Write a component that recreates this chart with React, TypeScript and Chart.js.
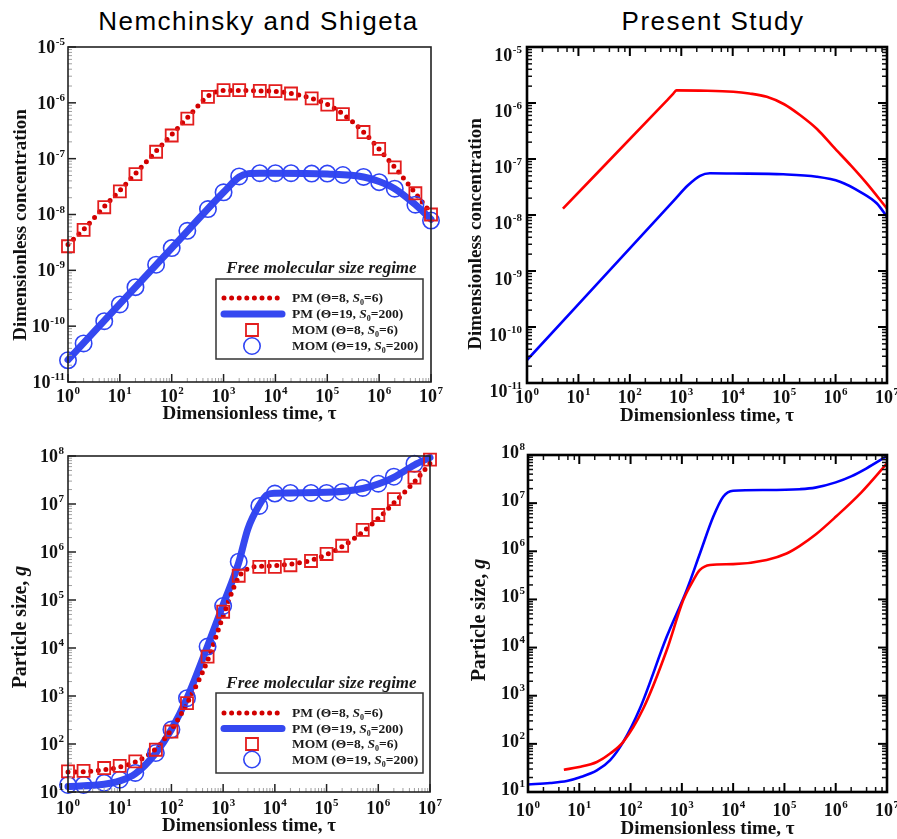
import React, { useEffect, useRef } from "react";
import { Chart, registerables } from "chart.js";

Chart.register(...registerables);

const W = 897;
const H = 839;

// ---------------- data ----------------
// Nemchinsky & Shigeta: concentration
const tauMOM = [1, 2, 5, 10, 20, 50, 100, 200, 500, 1e3, 2e3, 5e3, 1e4, 2e4, 5e4, 1e5, 2e5, 5e5, 1e6, 2e6, 5e6, 1e7];
const concMomTheta8 = [2.7e-9, 5.3e-9, 1.35e-8, 2.6e-8, 5.3e-8, 1.33e-7, 2.6e-7, 5.2e-7, 1.28e-6, 1.69e-6, 1.69e-6, 1.64e-6, 1.62e-6, 1.47e-6, 1.2e-6, 9.3e-7, 6.3e-7, 3.0e-7, 1.5e-7, 7.0e-8, 2.4e-8, 1.0e-8];
const concMomTheta19 = [2.45e-11, 4.9e-11, 1.23e-10, 2.45e-10, 5.0e-10, 1.26e-9, 2.5e-9, 5.1e-9, 1.25e-8, 2.5e-8, 4.8e-8, 5.5e-8, 5.5e-8, 5.5e-8, 5.4e-8, 5.4e-8, 5.1e-8, 4.7e-8, 3.8e-8, 2.9e-8, 1.5e-8, 7.8e-9];
const tauPmConc8 = [1, 2, 5, 10, 20, 50, 100, 200, 500, 800, 1e3, 2e3, 5e3, 1e4, 2e4, 5e4, 1e5, 2e5, 5e5, 1e6, 2e6, 5e6, 1e7];
const concPmTheta8 = [2.9e-9, 5.4e-9, 1.38e-8, 2.7e-8, 5.4e-8, 1.36e-7, 2.7e-7, 5.4e-7, 1.32e-6, 1.62e-6, 1.66e-6, 1.66e-6, 1.63e-6, 1.6e-6, 1.47e-6, 1.2e-6, 9.4e-7, 6.3e-7, 3.0e-7, 1.48e-7, 7.0e-8, 2.4e-8, 1.05e-8];
const tauPmConc19 = [1, 10, 100, 1e3, 2e3, 3e3, 5e3, 1e4, 1e5, 5e5, 1e6, 2e6, 5e6, 1e7];
const concPmTheta19 = [2.5e-11, 2.5e-10, 2.5e-9, 2.5e-8, 4.7e-8, 5.4e-8, 5.5e-8, 5.5e-8, 5.3e-8, 4.7e-8, 3.9e-8, 2.9e-8, 1.5e-8, 8.2e-9];

// Present study: concentration
const tauPresentConc8 = [5, 500, 700, 810, 2310, 1.03e4, 2.1e4, 4.6e4, 1e5, 2.03e5, 4.4e5, 9e5, 2e6, 4e6, 1e7];
const presentConc8 = [1.3e-8, 1.06e-6, 1.47e-6, 1.68e-6, 1.66e-6, 1.59e-6, 1.48e-6, 1.29e-6, 9.5e-7, 6.1e-7, 3.4e-7, 1.66e-7, 7.6e-8, 3.7e-8, 1.3e-8];
const tauPresentConc19 = [1, 700, 1350, 2310, 3600, 1e4, 9.6e4, 4.3e5, 1.22e6, 3e6, 6.3e6, 1e7];
const presentConc19 = [2.57e-11, 1.77e-8, 3.39e-8, 5.0e-8, 5.56e-8, 5.5e-8, 5.33e-8, 4.83e-8, 3.94e-8, 2.6e-8, 1.62e-8, 9.3e-9];

// Nemchinsky & Shigeta: particle size
const sizeMomTheta8 = [27, 27.5, 31.6, 35, 43.6, 76, 182, 708, 6.6e3, 5.7e4, 3.2e5, 4.9e5, 4.9e5, 5.3e5, 6.5e5, 9.1e5, 1.35e6, 2.9e6, 5.9e6, 1.26e7, 3.55e7, 8.4e7];
const sizeMomTheta19 = [14, 14, 15.5, 18, 25, 65, 200, 900, 1.07e4, 7.5e4, 6.3e5, 9.1e6, 1.65e7, 1.7e7, 1.7e7, 1.7e7, 1.78e7, 2.16e7, 2.65e7, 3.7e7, 6.9e7, null];
const tauPmSize8 = [1, 2, 5, 10, 20, 50, 100, 200, 500, 1e3, 2e3, 3e3, 5e3, 1e4, 2e4, 5e4, 1e5, 2e5, 5e5, 1e6, 2e6, 5e6, 1e7];
const sizePmTheta8 = [26, 26.5, 29, 33, 42, 80, 200, 700, 5.5e3, 4.6e4, 3.0e5, 4.5e5, 5.0e5, 5.2e5, 5.6e5, 6.7e5, 8.9e5, 1.3e6, 2.6e6, 5.0e6, 1.05e7, 2.9e7, 7e7];
const tauPmSize19 = [1, 5, 10, 20, 50, 100, 200, 500, 1e3, 2e3, 3e3, 5e3, 7e3, 1e4, 1e5, 5e5, 1e6, 2e6, 5e6, 1e7];
const sizePmTheta19 = [13, 14.5, 17, 24, 65, 200, 900, 1.1e4, 8e4, 6e5, 3e6, 9.5e6, 1.55e7, 1.68e7, 1.75e7, 2.1e7, 2.6e7, 3.6e7, 6.5e7, 9.3e7];

// Present study: particle size
const tauPresentSize19 = [1, 2.7, 5.7, 10, 22, 40, 72, 152, 506, 1240, 2250, 4090, 6400, 1e4, 4.5e4, 2e5, 4e5, 1e6, 2e6, 4e6, 1e7];
const presentSize19 = [14.3, 15.4, 16.9, 20, 28, 46, 110, 542, 1.67e4, 1.56e5, 9e5, 5.2e6, 1.36e7, 1.81e7, 1.87e7, 1.95e7, 2.1e7, 2.7e7, 3.6e7, 5.3e7, 9.5e7];
const tauPresentSize8 = [5, 10, 22, 40, 72, 177, 506, 1065, 1670, 2250, 3530, 1e4, 4.5e4, 1.1e5, 2e5, 4e5, 1e6, 3.2e6, 1e7];
const presentSize8 = [29, 33, 42, 63, 110, 542, 8.8e3, 9.7e4, 2.5e5, 4.1e5, 5.2e5, 5.4e5, 6.6e5, 9e5, 1.3e6, 2.2e6, 5.2e6, 1.7e7, 6.7e7];

// text
type Part = { t: string; it?: boolean; sub?: boolean };
const LEGEND_TITLE = "Free molecular size regime";
const labelPm8: Part[] = [{ t: "PM (Θ=8, " }, { t: "S", it: true }, { t: "0", sub: true }, { t: "=6)" }];
const labelPm19: Part[] = [{ t: "PM (Θ=19, " }, { t: "S", it: true }, { t: "0", sub: true }, { t: "=200)" }];
const labelMom8: Part[] = [{ t: "MOM (Θ=8, " }, { t: "S", it: true }, { t: "0", sub: true }, { t: "=6)" }];
const labelMom19: Part[] = [{ t: "MOM (Θ=19, " }, { t: "S", it: true }, { t: "0", sub: true }, { t: "=200)" }];
const xTitleParts: Part[] = [{ t: "Dimensionless time, τ" }];
const concTitleParts: Part[] = [{ t: "Dimensionless concentration" }];
const sizeTitleParts: Part[] = [{ t: "Particle size, " }, { t: "g", it: true }];

// ---------------- helpers ----------------
const SERIF = '"Liberation Serif", "Times New Roman", serif';
const pts = (xs: number[], ys: (number | null)[]) =>
  xs.map((x, i) => ({ x, y: ys[i] })).filter((p) => p.y !== null && p.y !== undefined);

const RED_DOT = "#d20000";
const BLUE_PM = "#3548f0";
const RED_SQ = "#e31d1d";
const BLUE_CIRC = "#2f44f4";

function pmRed(data: any) {
  return {
    label: "PM (Θ=8, S0=6)", labelParts: labelPm8, legendOrder: 0, order: 2,
    data, borderColor: RED_DOT, backgroundColor: RED_DOT, borderWidth: 5,
    borderDash: [0, 7.6], borderCapStyle: "round", pointRadius: 0,
    cubicInterpolationMode: "monotone", fill: false, clip: false,
  };
}
function pmBlue(data: any) {
  return {
    label: "PM (Θ=19, S0=200)", labelParts: labelPm19, legendOrder: 1, order: 3,
    data, borderColor: BLUE_PM, backgroundColor: BLUE_PM, borderWidth: 7,
    borderCapStyle: "round", borderJoinStyle: "round", pointRadius: 0,
    cubicInterpolationMode: "monotone", fill: false, clip: false,
  };
}
function momRed(data: any) {
  return {
    label: "MOM (Θ=8, S0=6)", labelParts: labelMom8, legendOrder: 2, order: 0,
    data, showLine: false, pointStyle: "rect", pointRadius: 8.5, pointBorderWidth: 1.8,
    borderColor: RED_SQ, pointBorderColor: RED_SQ, backgroundColor: "rgba(0,0,0,0)",
    pointBackgroundColor: "rgba(0,0,0,0)", clip: false,
  };
}
function momBlue(data: any) {
  return {
    label: "MOM (Θ=19, S0=200)", labelParts: labelMom19, legendOrder: 3, order: 1,
    data, showLine: false, pointStyle: "circle", pointRadius: 8.2, pointBorderWidth: 1.6,
    borderColor: BLUE_CIRC, pointBorderColor: BLUE_CIRC, backgroundColor: "rgba(0,0,0,0)",
    pointBackgroundColor: "rgba(0,0,0,0)", clip: false,
  };
}
function present(data: any, color: string) {
  return {
    label: "", data, borderColor: color, backgroundColor: color, borderWidth: 2.6,
    pointRadius: 0, fill: false, borderCapStyle: "butt", borderJoinStyle: "round",
    cubicInterpolationMode: "monotone",
  };
}

function partFont(p: Part, size: number) {
  return `${p.it ? "italic " : ""}bold ${p.sub ? Math.round(size * 0.62) : size}px ${SERIF}`;
}
function drawParts(ctx: CanvasRenderingContext2D, parts: Part[], x: number, baseline: number, size: number, align: "left" | "center") {
  let total = 0;
  for (const p of parts) {
    ctx.font = partFont(p, size);
    total += ctx.measureText(p.t).width;
  }
  let cx = align === "center" ? x - total / 2 : x;
  ctx.textAlign = "left";
  ctx.textBaseline = "alphabetic";
  for (const p of parts) {
    ctx.font = partFont(p, size);
    ctx.fillText(p.t, cx, p.sub ? baseline + size * 0.22 : baseline);
    cx += ctx.measureText(p.t).width;
  }
}
function drawPow(ctx: CanvasRenderingContext2D, e: number, x: number, yc: number, align: "center" | "right", size: number, expSize: number) {
  const expStr = String(e);
  ctx.textAlign = "left";
  ctx.textBaseline = "alphabetic";
  ctx.font = `bold ${size}px ${SERIF}`;
  const wb = ctx.measureText("10").width;
  ctx.font = `bold ${expSize}px ${SERIF}`;
  const we = ctx.measureText(expStr).width;
  const total = wb + we + 0.5;
  const start = align === "center" ? x - total / 2 : x - total;
  const base = yc + size * 0.33;
  ctx.font = `bold ${size}px ${SERIF}`;
  ctx.fillText("10", start, base);
  ctx.font = `bold ${expSize}px ${SERIF}`;
  ctx.fillText(expStr, start + wb + 0.5, base - size * 0.44);
}

const decorPlugin = {
  id: "decor",
  afterDraw(chart: any, _args: any, o: any) {
    const ctx: CanvasRenderingContext2D = chart.ctx;
    const { left, right, top, bottom } = chart.chartArea;
    const xs = chart.scales.x;
    const ys = chart.scales.y;
    ctx.save();
    const line = (x1: number, y1: number, x2: number, y2: number, w: number, c: string) => {
      ctx.beginPath();
      ctx.lineWidth = w;
      ctx.strokeStyle = c;
      ctx.moveTo(x1, y1);
      ctx.lineTo(x2, y2);
      ctx.stroke();
    };
    const ex0 = Math.round(Math.log10(xs.min)), ex1 = Math.round(Math.log10(xs.max));
    const ey0 = Math.round(Math.log10(ys.min)), ey1 = Math.round(Math.log10(ys.max));
    // x ticks
    for (let e = ex0; e <= ex1; e++) {
      const list: [number, boolean][] = [[10 ** e, true]];
      if (e < ex1) for (const m of o.xMinor) list.push([m * 10 ** e, false]);
      for (const [v, major] of list) {
        const px = xs.getPixelForValue(v);
        const len = major ? o.majorLen : o.minorLen;
        const w = major ? o.majorW : o.minorW;
        const c = major ? o.majorC : o.minorC;
        if (o.sides.bottom) line(px, bottom, px, bottom - len, w, c);
        if (o.sides.top) line(px, top, px, top + len, w, c);
      }
    }
    // y ticks
    for (let e = ey0; e <= ey1; e++) {
      const list: [number, boolean][] = [[10 ** e, true]];
      if (e < ey1) for (const m of o.yMinor) list.push([m * 10 ** e, false]);
      for (const [v, major] of list) {
        const py = ys.getPixelForValue(v);
        const len = major ? o.majorLen : o.minorLen;
        const w = major ? o.majorW : o.minorW;
        const c = major ? o.majorC : o.minorC;
        if (o.sides.left) line(left, py, left + len, py, w, c);
        if (o.sides.right) line(right, py, right - len, py, w, c);
      }
    }
    // frame
    ctx.lineWidth = o.frameW;
    ctx.strokeStyle = o.frameC;
    ctx.strokeRect(left, top, right - left, bottom - top);
    // tick labels
    ctx.fillStyle = "#111";
    for (let e = ex0; e <= ex1; e++) drawPow(ctx, e, xs.getPixelForValue(10 ** e), o.xLabelY, "center", 18, 11);
    for (let e = ey0; e <= ey1; e++) drawPow(ctx, e, o.yLabelRight, ys.getPixelForValue(10 ** e) + o.yLabelDy, "right", 18, 11);
    // axis titles
    const ts = o.titleSize;
    drawParts(ctx, o.xTitle.parts, (left + right) / 2, o.xTitle.y + ts * 0.33, ts, "center");
    ctx.save();
    ctx.translate(o.yTitle.x, o.yTitle.y);
    ctx.rotate(-Math.PI / 2);
    const yts = o.yTitle.size || ts;
    drawParts(ctx, o.yTitle.parts, 0, yts * 0.33, yts, "center");
    ctx.restore();
    // legend
    const lg = o.legend;
    if (lg) {
      const [bx0, by0, bx1, by1] = lg.box;
      ctx.font = `italic bold 17px ${SERIF}`;
      ctx.fillStyle = "#1a1a1a";
      ctx.textAlign = "center";
      ctx.textBaseline = "alphabetic";
      ctx.fillText(LEGEND_TITLE, (bx0 + bx1) / 2 + 2, lg.titleY + 17 * 0.33);
      ctx.fillStyle = "#fff";
      ctx.fillRect(bx0, by0, bx1 - bx0, by1 - by0);
      ctx.lineWidth = 1.5;
      ctx.strokeStyle = "#333";
      ctx.strokeRect(bx0, by0, bx1 - bx0, by1 - by0);
      const dss = [...chart.data.datasets].filter((d: any) => d.labelParts).sort((a: any, b: any) => a.legendOrder - b.legendOrder);
      dss.forEach((d: any, i: number) => {
        const ry = lg.rows[i];
        const sx0 = bx0 + 6, sx1 = bx0 + 66, scx = (sx0 + sx1) / 2;
        if (d.showLine === false) {
          ctx.lineWidth = d.pointBorderWidth;
          ctx.strokeStyle = d.pointBorderColor;
          ctx.beginPath();
          if (d.pointStyle === "rect") {
            const s = d.pointRadius * Math.SQRT1_2;
            ctx.rect(scx - s, ry - s, 2 * s, 2 * s);
          } else {
            ctx.arc(scx, ry, d.pointRadius, 0, Math.PI * 2);
          }
          ctx.stroke();
        } else {
          ctx.save();
          ctx.lineWidth = d.borderWidth;
          ctx.strokeStyle = d.borderColor;
          ctx.lineCap = d.borderCapStyle || "butt";
          ctx.setLineDash(d.borderDash || []);
          ctx.beginPath();
          ctx.moveTo(sx0 + 2, ry);
          ctx.lineTo(sx1, ry);
          ctx.stroke();
          ctx.restore();
        }
        ctx.fillStyle = "#1a1a1a";
        drawParts(ctx, d.labelParts, bx0 + 76, ry + 13.5 * 0.33, 13.5, "left");
      });
    }
    ctx.restore();
  },
};

const leftDecor = {
  frameW: 1.6, frameC: "#222", sides: { left: true, bottom: true, top: false, right: false },
  majorLen: 8, minorLen: 4, majorW: 1.5, minorW: 1, majorC: "#222", minorC: "#a0a0a0",
  xMinor: [2, 3, 4, 5, 6, 7, 8, 9], yMinor: [2, 3, 4, 5, 6, 7, 8, 9], titleSize: 19,
};
const rightDecor = {
  frameW: 2.6, frameC: "#000", sides: { left: true, bottom: true, top: true, right: true },
  majorLen: 9, minorLen: 5, majorW: 2, minorW: 1.5, majorC: "#000", minorC: "#111",
  xMinor: [2, 4, 6, 8], yMinor: [2, 3, 4, 5, 6, 7, 8, 9], titleSize: 19,
};

const PANELS = [
  {
    area: { l: 68, t: 47, r: 431, b: 382 }, yMin: 1e-11, yMax: 1e-5,
    datasets: () => [
      momRed(pts(tauMOM, concMomTheta8)), momBlue(pts(tauMOM, concMomTheta19)),
      pmRed(pts(tauPmConc8, concPmTheta8)), pmBlue(pts(tauPmConc19, concPmTheta19)),
    ],
    decor: {
      ...leftDecor, xLabelY: 396, yLabelRight: 65, yLabelDy: 0,
      xTitle: { parts: xTitleParts, y: 413 }, yTitle: { parts: concTitleParts, x: 20, y: 225 },
      legend: { titleY: 267, box: [216, 279, 423, 359], rows: [298, 314, 330, 346] },
    },
  },
  {
    area: { l: 527, t: 47, r: 887, b: 383 }, yMin: 1e-11, yMax: 1e-5,
    datasets: () => [
      present(pts(tauPresentConc8, presentConc8), "#ff0000"),
      present(pts(tauPresentConc19, presentConc19), "#0000ff"),
    ],
    decor: {
      ...rightDecor, xLabelY: 397, yLabelRight: 522, yLabelDy: 8,
      xTitle: { parts: xTitleParts, y: 415 }, yTitle: { parts: concTitleParts, x: 475, y: 234 }, legend: null,
    },
  },
  {
    area: { l: 68, t: 456, r: 430, b: 792 }, yMin: 10, yMax: 1e8,
    datasets: () => [
      momRed(pts(tauMOM, sizeMomTheta8)), momBlue(pts(tauMOM, sizeMomTheta19)),
      pmRed(pts(tauPmSize8, sizePmTheta8)), pmBlue(pts(tauPmSize19, sizePmTheta19)),
    ],
    decor: {
      ...leftDecor, xLabelY: 808, yLabelRight: 64, yLabelDy: 0,
      xTitle: { parts: xTitleParts, y: 825 }, yTitle: { parts: sizeTitleParts, x: 19, y: 627, size: 20 },
      legend: { titleY: 682, box: [216, 693, 423, 773], rows: [713, 728.5, 744, 759.5] },
    },
  },
  {
    area: { l: 528, t: 455, r: 887, b: 792 }, yMin: 10, yMax: 1e8,
    datasets: () => [
      present(pts(tauPresentSize8, presentSize8), "#ff0000"),
      present(pts(tauPresentSize19, presentSize19), "#0000ff"),
    ],
    decor: {
      ...rightDecor, xLabelY: 810, yLabelRight: 525, yLabelDy: -3,
      xTitle: { parts: xTitleParts, y: 828 }, yTitle: { parts: sizeTitleParts, x: 478, y: 620, size: 20 }, legend: null,
    },
  },
];

function Panel({ panel }: { panel: any }) {
  const ref = useRef<HTMLCanvasElement | null>(null);
  useEffect(() => {
    if (!ref.current) return;
    const a = panel.area;
    const chart = new Chart(ref.current, {
      type: "line",
      data: { datasets: panel.datasets() },
      options: {
        responsive: false,
        animation: false,
        devicePixelRatio: 1,
        events: [],
        layout: { padding: { left: a.l, top: a.t, right: W - a.r, bottom: H - a.b }, autoPadding: false },
        scales: {
          x: { type: "logarithmic", min: 1, max: 1e7, display: false },
          y: { type: "logarithmic", min: panel.yMin, max: panel.yMax, display: false },
        },
        plugins: { legend: { display: false }, tooltip: { enabled: false }, decor: panel.decor },
      } as any,
      plugins: [decorPlugin as any],
    });
    return () => chart.destroy();
  }, []);
  return <canvas ref={ref} width={W} height={H} style={{ position: "absolute", left: 0, top: 0 }} />;
}

const titleStyle = (cx: number): React.CSSProperties => ({
  position: "absolute", left: cx - 250, width: 500, top: 6, textAlign: "center",
  fontFamily: '"Liberation Sans", Arial, sans-serif', fontSize: 26, letterSpacing: 1.5,
  lineHeight: "30px", color: "#000",
});

export default function App() {
  return (
    <div style={{ position: "absolute", left: 0, top: 0, width: W, height: H, background: "#fff", overflow: "hidden" }}>
      <div style={titleStyle(258.5)}>Nemchinsky and Shigeta</div>
      <div style={titleStyle(713)}>Present Study</div>
      {PANELS.map((p, i) => (
        <Panel key={i} panel={p} />
      ))}
    </div>
  );
}
